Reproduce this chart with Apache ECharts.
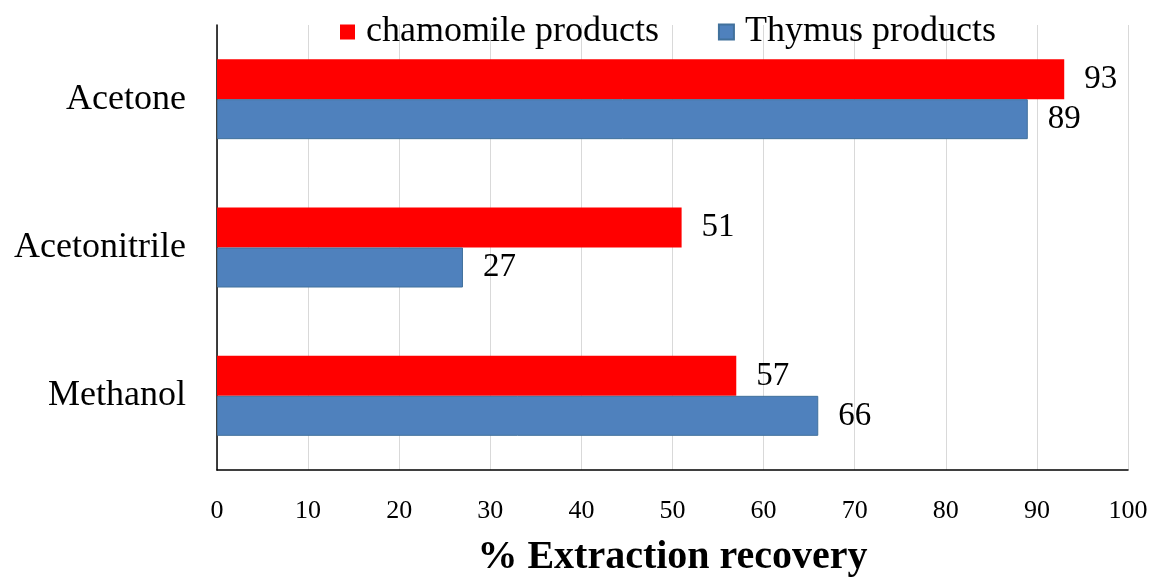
<!DOCTYPE html>
<html>
<head>
<meta charset="utf-8">
<script src="https://cdn.jsdelivr.net/npm/echarts@6/dist/echarts.min.js"></script>
<style>
html,body{margin:0;padding:0;background:#fff;}
#chart{width:1152px;height:583px;}
</style>
</head>
<body>
<div id="chart"></div>
<script>
var categories = ['Methanol', 'Acetonitrile', 'Acetone'];
var chamomileValues = [57, 51, 93];
var thymusValues = [66, 27, 89];
var seriesNames = ['chamomile products', 'Thymus products'];
var xTicks = [0, 10, 20, 30, 40, 50, 60, 70, 80, 90, 100];
var axisTitle = '% Extraction recovery';

var FONT = '"Liberation Serif", "Times New Roman", serif';
var chart = echarts.init(document.getElementById('chart'));
chart.setOption({
  animation: false,
  backgroundColor: '#ffffff',
  textStyle: { fontFamily: FONT, color: '#000' },
  legend: {
    data: seriesNames,
    left: 335,
    top: 9,
    itemWidth: 15,
    itemHeight: 15,
    itemGap: 59,
    icon: 'rect',
    textStyle: { fontFamily: FONT, fontSize: 36, color: '#000', padding: [0, 0, 0, 6] },
    backgroundColor: 'transparent'
  },
  grid: { left: 217, right: 24, top: 25, bottom: 104, containLabel: false },
  xAxis: {
    type: 'value',
    min: xTicks[0],
    max: xTicks[xTicks.length - 1],
    interval: 10,
    name: axisTitle,
    nameLocation: 'middle',
    nameGap: 68,
    nameTextStyle: { fontFamily: FONT, fontSize: 40, fontWeight: 'bold', color: '#000' },
    axisLine: { show: true, lineStyle: { color: '#000', width: 1.5 } },
    axisTick: { show: false },
    axisLabel: { fontFamily: FONT, fontSize: 26, color: '#000', margin: 28 },
    splitLine: { show: true, lineStyle: { color: '#d9d9d9', width: 1 } }
  },
  yAxis: {
    type: 'category',
    data: categories,
    axisLine: { show: true, lineStyle: { color: '#000', width: 1.5 } },
    axisTick: { show: false },
    axisLabel: { fontFamily: FONT, fontSize: 36, color: '#000', margin: 31 },
    splitLine: { show: false }
  },
  series: [
    {
      name: seriesNames[0],
      type: 'bar',
      data: chamomileValues,
      barWidth: 40,
      barGap: '0%',
      itemStyle: { color: '#ff0000' },
      label: { show: true, position: 'right', distance: 20, fontFamily: FONT, fontSize: 33, color: '#000' }
    },
    {
      name: seriesNames[1],
      type: 'bar',
      data: thymusValues,
      barWidth: 40,
      barGap: '0%',
      itemStyle: { color: '#4f81bd', borderColor: '#41719c', borderWidth: 1 },
      label: { show: true, position: 'right', distance: 20, fontFamily: FONT, fontSize: 33, color: '#000' }
    }
  ]
});
</script>
</body>
</html>
